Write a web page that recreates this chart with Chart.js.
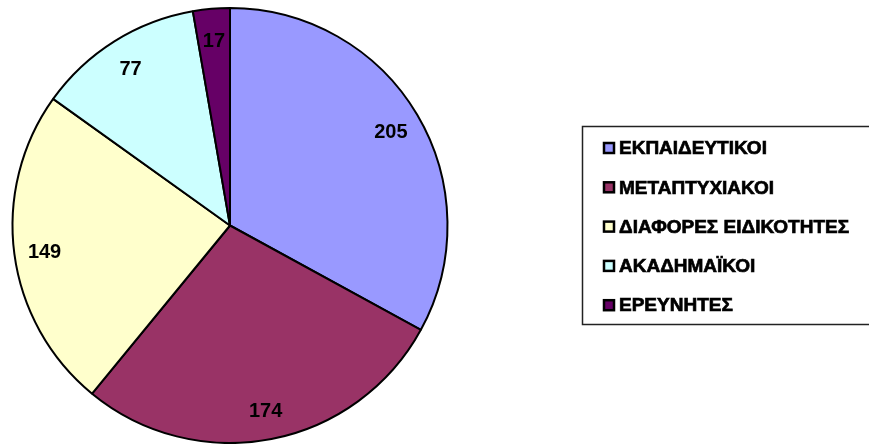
<!DOCTYPE html>
<html>
<head>
<meta charset="utf-8">
<script src="https://cdn.jsdelivr.net/npm/chart.js@4"></script>
<style>
  html, body { margin: 0; padding: 0; background: #fff; }
  #wrap { width: 869px; height: 444px; position: relative; }
</style>
</head>
<body>
<div id="wrap"><canvas id="pie_chart"></canvas></div>
<script>
// pie data
let pie_labels = ['ΕΚΠΑΙΔΕΥΤΙΚΟΙ', 'ΜΕΤΑΠΤΥΧΙΑΚΟΙ', 'ΔΙΑΦΟΡΕΣ ΕΙΔΙΚΟΤΗΤΕΣ', 'ΑΚΑΔΗΜΑΪΚΟΙ', 'ΕΡΕΥΝΗΤΕΣ'];
let pie_values = [205, 174, 149, 77, 17];
let pie_colors = ['#9999FF', '#993366', '#FFFFCC', '#CCFFFF', '#660066'];

const FONT = 'bold 20px Arial, "Liberation Sans", sans-serif';
const LEGEND_FONT = 'bold 19px Arial, "Liberation Sans", sans-serif';

// value labels inside the slices
const valueLabels = {
    id: 'valueLabels',
    afterDatasetsDraw(chart) {
        const ctx = chart.ctx;
        const meta = chart.getDatasetMeta(0);
        ctx.save();
        ctx.font = FONT;
        ctx.fillStyle = '#000';
        ctx.textAlign = 'center';
        ctx.textBaseline = 'middle';
        meta.data.forEach((arc, i) => {
            const mid = (arc.startAngle + arc.endAngle) / 2;
            const r = arc.outerRadius * 0.86;
            ctx.fillText(String(pie_values[i]), arc.x + Math.cos(mid) * r, arc.y + Math.sin(mid) * r + 2);
        });
        ctx.restore();
    }
};

// boxed legend on the right
const boxLegend = {
    id: 'boxLegend',
    afterDraw(chart) {
        const ctx = chart.ctx;
        const ds = chart.data.datasets[0];
        ctx.save();
        ctx.strokeStyle = '#222';
        ctx.lineWidth = 1.5;
        ctx.strokeRect(582.5, 126.5, 300, 198);
        ctx.textBaseline = 'middle';
        ctx.textAlign = 'left';
        chart.data.labels.forEach((lab, i) => {
            const y = 148 + i * 39.3;
            ctx.fillStyle = ds.backgroundColor[i];
            ctx.fillRect(604, y - 5, 10, 10);
            ctx.strokeStyle = '#000';
            ctx.lineWidth = 2.5;
            ctx.strokeRect(604, y - 5, 10, 10);
            ctx.font = LEGEND_FONT;
            ctx.fillStyle = '#000';
            ctx.fillText(lab, 619, y + 1);
            // a bit heavier, like the original
            ctx.lineWidth = 0.7;
            ctx.strokeText(lab, 619, y + 1);
        });
        ctx.restore();
    }
};

const pie_data = {
    labels: pie_labels,
    datasets: [{
        data: pie_values,
        backgroundColor: pie_colors,
        borderColor: '#000',
        borderWidth: 2,
        hoverOffset: 0
    }]
};

const pie_config = {
    type: 'pie',
    data: pie_data,
    options: {
        responsive: true,
        maintainAspectRatio: false,
        animation: false,
        layout: {
            padding: { left: 11, top: 7, right: 420, bottom: 0 }
        },
        plugins: {
            legend: { display: false },
            tooltip: { enabled: false }
        }
    },
    plugins: [valueLabels, boxLegend]
};

const pie_chart = new Chart(
    document.getElementById('pie_chart'),
    pie_config
);
</script>
</body>
</html>
